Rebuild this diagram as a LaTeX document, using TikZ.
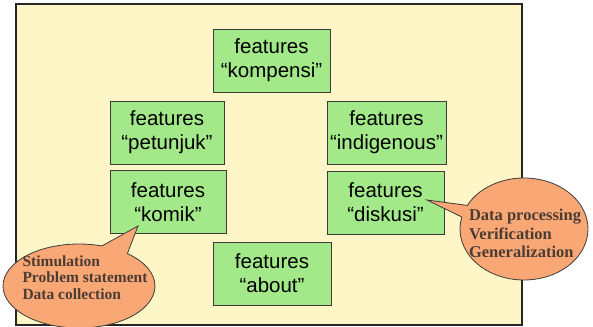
\documentclass[tikz,border=0pt]{standalone}
\usepackage{fontspec}
\setmainfont{Liberation Sans}
\newfontfamily\callfont{Liberation Serif}
\usetikzlibrary{shapes.callouts}
\definecolor{bgyellow}{HTML}{FFF6C8}
\definecolor{boxgreen}{HTML}{A3E98A}
\definecolor{boxline}{HTML}{3C3C3C}
\definecolor{callfill}{HTML}{F9A875}
\definecolor{calltext}{HTML}{4A3C34}
\newcommand{\bubbletext}[3]{\makebox[0pt]{\hspace{#1}\raisebox{#2}[0pt][0pt]{\begin{tabular}{@{}l@{}}#3\end{tabular}}}}
\begin{document}
\begin{tikzpicture}[x=1pt,y=-1pt,
  featbox/.style={draw=boxline, line width=0.9pt, fill=boxgreen, minimum height=63pt,
    inner sep=1pt, align=center, font=\fontsize{20.5}{24}\selectfont, text=black},
  bubble/.style={ellipse callout, draw=boxline, line width=0.8pt, fill=callfill,
    inner sep=0pt, text=calltext}]
\useasboundingbox (0,0) rectangle (593,326);
\node[draw=black!85, line width=1.3pt, fill=bgyellow, minimum width=506pt, minimum height=321pt, inner sep=0pt] (bg) at (269,164.5) {};
\node[featbox, minimum width=117pt] (kompensi) at (271.5,60.5) {features\\“kompensi”};
\node[featbox, minimum width=114pt] (petunjuk) at (167,132.5) {features\\“petunjuk”};
\node[featbox, minimum width=119pt] (indigenous) at (386.5,132.5) {features\\“indigenous”};
\node[featbox, minimum width=116pt] (komik) at (168,202) {features\\“komik”};
\node[featbox, minimum width=117pt] (diskusi) at (385.5,202.5) {features\\“diskusi”};
\node[featbox, minimum width=118pt] (about) at (272,273.5) {features\\“about”};
\coordinate (tipA) at (138,226);
\coordinate (tipB) at (427,200);
\node[bubble, minimum width=152pt, minimum height=84pt, callout pointer arc=22, callout absolute pointer=(tipA),
  font=\callfont\bfseries\fontsize{15.5}{16.5}\selectfont] (bubbleA) at (79,286)
  {\bubbletext{12pt}{3pt}{Stimulation\\Problem statement\\Data collection}};
\node[bubble, minimum width=128pt, minimum height=102pt, callout pointer arc=14, callout absolute pointer=(tipB),
  font=\callfont\bfseries\fontsize{16.5}{18.5}\selectfont] (bubbleB) at (524,229)
  {\bubbletext{2pt}{-11pt}{Data processing\\Verification\\Generalization}};
\end{tikzpicture}
\end{document}
